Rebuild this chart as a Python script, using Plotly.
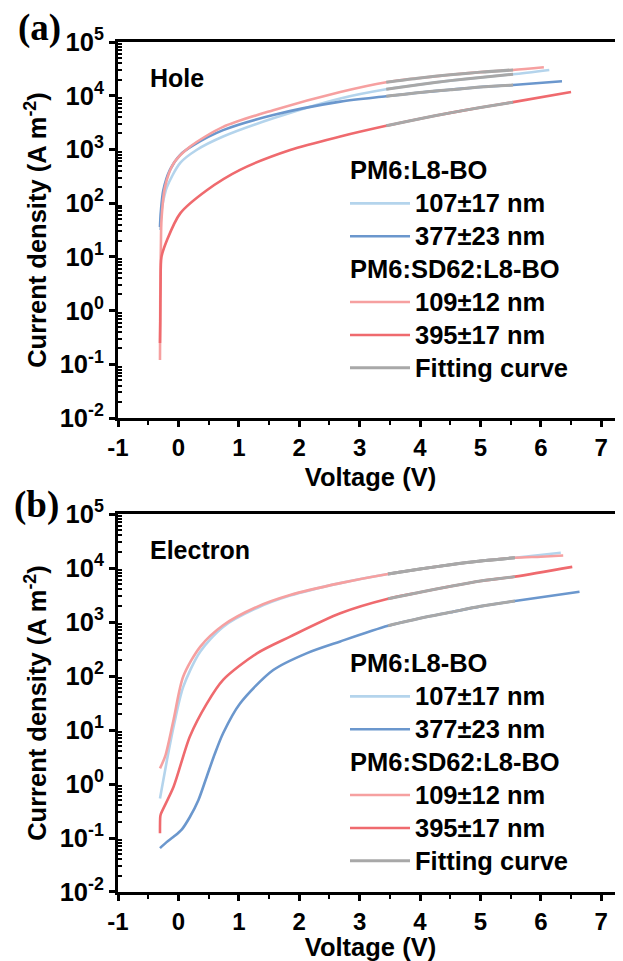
import plotly.graph_objects as go

# ---------------- Panel (a): Hole-only devices ----------------
a_v_109 = [-0.305, -0.30, -0.29, -0.28, -0.22, -0.08, 0.19, 0.74, 1.57, 2.68, 3.44, 4.0, 4.5, 5.0, 5.54, 6.05]
a_j_109 = [0.12, 2.0, 15.8, 49, 204, 550, 1120, 2630, 5370, 11700, 17800, 21400, 24500, 27500, 30200, 33900]

a_v_107 = [-0.30, -0.28, -0.25, -0.19, 0.03, 0.30, 0.74, 1.57, 2.68, 3.44, 4.0, 4.5, 5.0, 5.54, 6.14]
a_j_107 = [31.6, 71, 112, 200, 562, 977, 1740, 3800, 8910, 13200, 16200, 19100, 21900, 25100, 30200]

a_v_377 = [-0.305, -0.29, -0.25, -0.14, 0.03, 0.25, 0.74, 1.57, 2.68, 3.44, 4.0, 4.5, 5.0, 5.54, 6.35]
a_j_377 = [36, 71, 174, 417, 794, 1200, 2290, 4370, 7760, 9770, 11500, 12900, 14500, 15800, 18600]

a_v_395 = [-0.305, -0.30, -0.295, -0.28, -0.19, 0.03, 0.47, 1.02, 1.85, 2.68, 3.44, 4.0, 4.5, 5.0, 5.54, 6.5]
a_j_395 = [0.25, 0.63, 3.0, 10, 20.4, 64.6, 174, 417, 977, 1740, 2750, 3720, 4790, 6030, 7590, 11700]

a_fit_v = [3.44, 4.0, 4.5, 5.0, 5.54]
a_fit_109 = [17800, 21400, 24500, 27500, 30200]
a_fit_107 = [13200, 16200, 19100, 21900, 25100]
a_fit_377 = [9770, 11500, 12900, 14500, 15800]
a_fit_395 = [2750, 3720, 4790, 6030, 7590]

# ---------------- Panel (b): Electron-only devices ----------------
b_v_109 = [-0.305, -0.22, -0.08, 0.08, 0.36, 0.74, 1.3, 1.85, 2.68, 3.47, 4.0, 4.5, 5.0, 5.57, 6.0, 6.37]
b_j_109 = [1.95, 3.24, 15.5, 97.7, 347, 871, 1910, 3160, 5250, 7760, 9550, 11500, 13500, 15500, 16200, 17000]

b_v_107 = [-0.305, -0.19, -0.08, 0.08, 0.36, 0.74, 1.3, 1.85, 2.68, 3.47, 4.0, 4.5, 5.0, 5.57, 6.33]
b_j_107 = [0.54, 2.75, 11.5, 63, 282, 813, 1820, 3090, 5250, 7760, 9550, 11500, 13500, 15500, 19100]

b_v_395 = [-0.305, -0.30, -0.29, -0.08, 0.19, 0.47, 0.74, 1.3, 1.85, 2.68, 3.47, 4.0, 4.5, 5.0, 5.57, 6.52]
b_j_395 = [0.123, 0.25, 0.28, 0.89, 7.6, 30.9, 85, 263, 537, 1450, 2690, 3550, 4570, 5750, 6920, 10500]

b_v_377 = [-0.305, -0.2, -0.08, 0.05, 0.19, 0.33, 0.47, 0.6, 0.74, 1.02, 1.57, 2.12, 2.68, 3.47, 4.0, 4.5, 5.0, 5.57, 6.64]
b_j_377 = [0.065, 0.083, 0.105, 0.141, 0.245, 0.5, 1.38, 3.55, 8.7, 30.9, 129, 263, 437, 851, 1170, 1510, 1950, 2450, 3630]

b_fit_v = [3.47, 4.0, 4.5, 5.0, 5.57]
b_fit_109 = [7760, 9550, 11500, 13500, 15500]
b_fit_107 = [7760, 9550, 11500, 13500, 15500]
b_fit_395 = [2690, 3550, 4570, 5750, 6920]
b_fit_377 = [851, 1170, 1510, 1950, 2450]

y_tick_vals = [0.01, 0.1, 1, 10, 100, 1000, 10000, 100000]
y_tick_text = ["10<sup>-2</sup>", "10<sup>-1</sup>", "10<sup>0</sup>", "10<sup>1</sup>",
               "10<sup>2</sup>", "10<sup>3</sup>", "10<sup>4</sup>", "10<sup>5</sup>"]
x_tick_vals = [-1, 0, 1, 2, 3, 4, 5, 6, 7]
x_tick_text = ["-1", "0", "1", "2", "3", "4", "5", "6", "7"]

C_LB = "#b4d4ec"
C_BL = "#6b97cd"
C_PK = "#f6a0a0"
C_RD = "#ef6a6e"
C_GR = "#a8a8a8"
LW = 2.6

FONT = "Liberation Sans, Arial, sans-serif"
BIG = "<span style='font-size:25.5px'>%s</span>"

fig = go.Figure()

def add_panel(xa, ya, leg, data, fits):
    for v, j, col, name, grp, gtitle in data:
        kw = {}
        if gtitle:
            kw["legendgrouptitle"] = dict(text=BIG % gtitle,
                                          font=dict(family=FONT, size=23, color="black", weight="bold"))
        fig.add_trace(go.Scatter(x=v, y=j, mode="lines",
                                 line=dict(color=col, width=LW, shape="spline", smoothing=0.8),
                                 name=BIG % name, legendgroup=grp + leg, legend=leg,
                                 xaxis=xa, yaxis=ya, **kw))
    first = True
    for fv, fj in fits:
        fig.add_trace(go.Scatter(x=fv, y=fj, mode="lines",
                                 line=dict(color=C_GR, width=3, shape="spline", smoothing=0.8),
                                 name=BIG % "Fitting curve", legendgroup="fit" + leg, legend=leg,
                                 showlegend=first, xaxis=xa, yaxis=ya))
        first = False

add_panel("x", "y", "legend", [
    (a_v_107, a_j_107, C_LB, "107±17 nm", "g1", "PM6:L8-BO"),
    (a_v_377, a_j_377, C_BL, "377±23 nm", "g1", None),
    (a_v_109, a_j_109, C_PK, "109±12 nm", "g2", "PM6:SD62:L8-BO"),
    (a_v_395, a_j_395, C_RD, "395±17 nm", "g2", None),
], [(a_fit_v, a_fit_109), (a_fit_v, a_fit_107), (a_fit_v, a_fit_377), (a_fit_v, a_fit_395)])

add_panel("x2", "y2", "legend2", [
    (b_v_107, b_j_107, C_LB, "107±17 nm", "g1", "PM6:L8-BO"),
    (b_v_377, b_j_377, C_BL, "377±23 nm", "g1", None),
    (b_v_109, b_j_109, C_PK, "109±12 nm", "g2", "PM6:SD62:L8-BO"),
    (b_v_395, b_j_395, C_RD, "395±17 nm", "g2", None),
], [(b_fit_v, b_fit_109), (b_fit_v, b_fit_107), (b_fit_v, b_fit_395), (b_fit_v, b_fit_377)])

minor_y = [k * 10.0 ** e for e in range(-2, 5) for k in range(2, 10)]

def xaxis_cfg(anchor):
    return dict(anchor=anchor, range=[-1, 7.36], tickvals=x_tick_vals, ticktext=x_tick_text,
                ticks="outside", ticklen=6, tickwidth=2.5, tickcolor="black",
                showline=True, linewidth=3, linecolor="black", mirror=True,
                showgrid=False, zeroline=False,
                tickfont=dict(family=FONT, size=24, color="black", weight="bold"),
                minor=dict(tickvals=[-0.5, 0.5, 1.5, 2.5, 3.5, 4.5, 5.5, 6.5], ticks="outside",
                           ticklen=3.5, tickwidth=2, tickcolor="black", showgrid=False),
                title=dict(text="Voltage (V)", standoff=9,
                           font=dict(family=FONT, size=25.5, color="black", weight="bold")))

def yaxis_cfg(anchor, domain):
    return dict(anchor=anchor, domain=domain, type="log", range=[-2, 5],
                tickvals=y_tick_vals, ticktext=y_tick_text, ticks="outside",
                ticklen=6, tickwidth=2.5, tickcolor="black",
                showline=True, linewidth=3, linecolor="black", mirror=False,
                showgrid=False, zeroline=False,
                tickfont=dict(family=FONT, size=25.5, color="black", weight="bold"),
                minor=dict(tickvals=minor_y, ticks="inside", ticklen=4, tickwidth=1.5,
                           tickcolor="black", showgrid=False),
                title=dict(text="Current density (A m<sup>-2</sup>)", standoff=6,
                           font=dict(family=FONT, size=25.5, color="black", weight="bold")))

leg_common = dict(font=dict(family=FONT, size=23, color="black", weight="bold"),
                  bgcolor="rgba(0,0,0,0)", borderwidth=0, tracegroupgap=0,
                  itemwidth=60, xanchor="left", yanchor="top", traceorder="grouped")

# The page body has an 8px default margin, so the figure is sized/placed to compensate.
OFF = 8
FIG_W, FIG_H = 623 - OFF, 961 - OFF
M_L, M_T, M_B, M_R = 118 - OFF, 42 - OFF, 69, 0
H_PLOT = FIG_H - M_T - M_B
W_PLOT = FIG_W - M_L - M_R

def scr_to_paper(sx, sy):
    fx, fy = sx - OFF, sy - OFF
    return (fx - M_L) / W_PLOT, (FIG_H - M_B - fy) / H_PLOT

ax_, ay_ = scr_to_paper(16, 28)
bx_, by_ = scr_to_paper(12, 505)
lx, ly = scr_to_paper(345, 149)
l2x, l2y = scr_to_paper(345, 642)

fig.update_layout(
    width=FIG_W, height=FIG_H,
    margin=dict(l=M_L, r=M_R, t=M_T, b=M_B),
    paper_bgcolor="white", plot_bgcolor="white",
    xaxis=xaxis_cfg("y"),
    yaxis=yaxis_cfg("x", [0.5576, 1.0]),
    xaxis2=xaxis_cfg("y2"),
    yaxis2=yaxis_cfg("x2", [0.0, 0.4447]),
    legend=dict(x=lx, y=ly, **leg_common),
    legend2=dict(x=l2x, y=l2y, **leg_common),
    showlegend=True,
    annotations=[
        dict(text="<b>(a)</b>", x=ax_, y=ay_, xref="paper", yref="paper", xanchor="left",
             yanchor="middle", showarrow=False,
             font=dict(family="Liberation Serif, Times New Roman, serif", size=37, color="black")),
        dict(text="<b>(b)</b>", x=bx_, y=by_, xref="paper", yref="paper", xanchor="left",
             yanchor="middle", showarrow=False,
             font=dict(family="Liberation Serif, Times New Roman, serif", size=37, color="black")),
        dict(text="Hole", xref="x", yref="y domain", x=-0.5, y=0.905, xanchor="left",
             yanchor="middle", showarrow=False,
             font=dict(family=FONT, size=25, color="black", weight="bold")),
        dict(text="Electron", xref="x2", yref="y2 domain", x=-0.5, y=0.905, xanchor="left",
             yanchor="middle", showarrow=False,
             font=dict(family=FONT, size=25, color="black", weight="bold")),
    ],
)

fig.write_html("out.html")
